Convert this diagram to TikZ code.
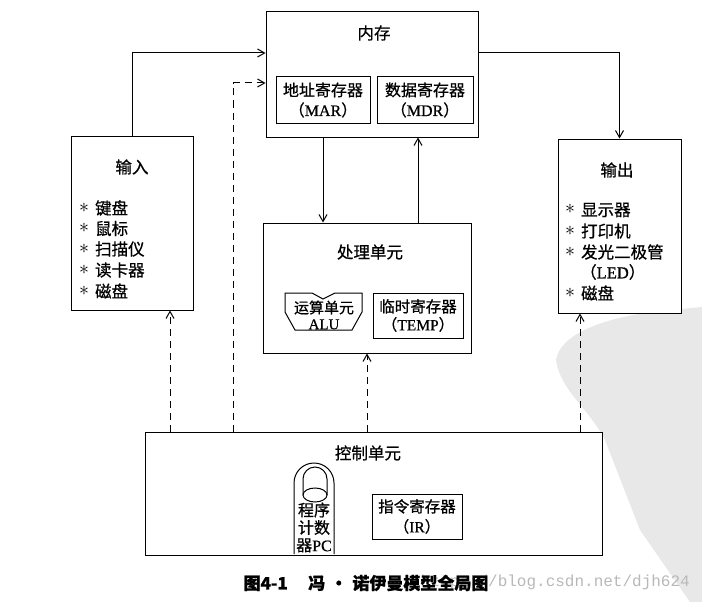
\documentclass[tikz,border=0pt]{standalone}
\usepackage{fontspec}
\setmainfont{Noto Sans CJK SC}[FakeBold=0.7]
\newfontfamily\lat{Liberation Serif}[FakeBold=0.7]
\newfontfamily\wmfont{Liberation Mono}
\usetikzlibrary{arrows.meta}
\definecolor{sealgray}{gray}{0.91}
\definecolor{wmgray}{gray}{0.72}
\newcommand\bul{\raisebox{2pt}{\scalebox{1.15}{$\ast$}}}
\tikzset{
  box/.style={draw,line width=1pt,fill=white,inner sep=0pt,align=center,font=\fontsize{16}{20}\selectfont},
  ttl/.style={inner sep=0pt,font=\fontsize{16.5}{20}\selectfont},
  item/.style={inner sep=0pt,anchor=west,font=\fontsize{16.5}{20}\selectfont},
  dat/.style={->,line width=1pt},
  ctl/.style={->,line width=1pt,dash pattern=on 7pt off 5pt},
}
\begin{document}
\begin{tikzpicture}[x=1pt,y=-1pt,>={Straight Barb[length=7pt,width=8pt]}]
\useasboundingbox (0,0) rectangle (702,602);
% seal in the background
\fill[sealgray] (702,307) -- (660,311) .. controls (600,318) and (560,335) .. (556,360)
  .. controls (560,390) and (590,410) .. (605,440) -- (640,530) -- (690,602) -- (702,602) -- cycle;

% memory
\node[box,minimum width=212pt,minimum height=125pt] (mem) at (372,74.5) {};
\node[ttl] (memt) at (374,33) {内存};
\node[box,minimum width=94pt,minimum height=46pt] (mar) at (323,100) {地址寄存器\\（{\lat MAR}）};
\node[box,minimum width=96pt,minimum height=46pt] (mdr) at (425,100) {数据寄存器\\（{\lat MDR}）};

% input
\node[box,minimum width=122pt,minimum height=174pt] (in) at (132,223) {};
\node[ttl] (int) at (132,167) {输入};
\foreach \t/\yy in {键盘/208,鼠标/228.5,扫描仪/249,读卡器/270,磁盘/291}
  \node[item] (in-\yy) at (79,\yy) {\bul\hspace{6pt}\t};

% output
\node[box,minimum width=123pt,minimum height=174pt] (out) at (619.5,226) {};
\node[ttl] (outt) at (617,170) {输出};
\foreach \t/\yy in {显示器/210,打印机/231,发光二极管/252,磁盘/293}
  \node[item] (out-\yy) at (565,\yy) {\bul\hspace{6pt}\t};
\node[item] (led) at (580,272) {（{\lat LED}）};

% processing unit
\node[box,minimum width=208pt,minimum height=130pt] (proc) at (367,288) {};
\node[ttl] (proct) at (370,252) {处理单元};
\draw[line width=1pt] (285,293) -- (312,293) -- (323,299) -- (335,293) -- (362,293)
  -- (362,312) -- (352,330) -- (295,330) -- (285,312) -- cycle;
\node[inner sep=0pt,align=center,font=\fontsize{15}{16}\selectfont] (alu) at (324,315) {运算单元\\{\lat ALU}};
\node[box,minimum width=90pt,minimum height=45pt,font=\fontsize{15.5}{18}\selectfont] (temp) at (418,315.5) {临时寄存器\\（{\lat TEMP}）};

% control unit
\node[box,minimum width=457pt,minimum height=123pt] (ctrl) at (373.5,493.5) {};
\node[ttl] (ctrlt) at (368,453) {控制单元};
\draw[line width=1pt] (294,554) -- (294,483) arc[start angle=180,end angle=0,radius=20pt] -- (334,554);
\draw[line width=1pt] (303,495) -- (303,479) arc[start angle=180,end angle=0,radius=12pt] -- (327,495);
\draw[line width=1pt] (315,495) ellipse[x radius=12pt,y radius=7pt];
\node[inner sep=0pt,align=center,font=\fontsize{16}{17.5}\selectfont] (pc) at (314,527.5) {程序\\计数\\器{\lat PC}};
\node[box,minimum width=90pt,minimum height=45pt,font=\fontsize{15.5}{20}\selectfont] (ir) at (417,516.5) {指令寄存器\\（{\lat IR}）};

% data paths
\draw[dat] (in.north) |- ([yshift=21.5pt]mem.west);
\draw[dat] ([yshift=21.5pt]mem.east) -| (out.north);
\draw[dat] (mem.south -| mar.south) -- (proc.north -| mar.south);
\draw[dat] (proc.north -| temp.north) -- (mem.south -| temp.north);

% control paths
\draw[ctl] ([xshift=38pt]in.south |- ctrl.north) -- ([xshift=38pt]in.south);
\draw[ctl] ([xshift=-140.5pt]ctrl.north) |- ([yshift=-8.5pt]mem.west);
\draw[ctl] (ctrl.north -| proc.south) -- (proc.south);
\draw[ctl] ([xshift=-39.5pt]out.south |- ctrl.north) -- ([xshift=-39.5pt]out.south);

% caption
\node[anchor=base east,text=wmgray,font=\wmfont\fontsize{16}{16}\selectfont,inner sep=0pt] (wm) at (690,586) {https://blog.csdn.net/djh624};
\node[inner sep=0pt,font=\bfseries\fontsize{17}{17}\selectfont] (cap) at (366,583) {图4-1\hspace{1.2em}冯\hspace{0.3em}·\hspace{0.3em}诺伊曼模型全局图};
\end{tikzpicture}
\end{document}
